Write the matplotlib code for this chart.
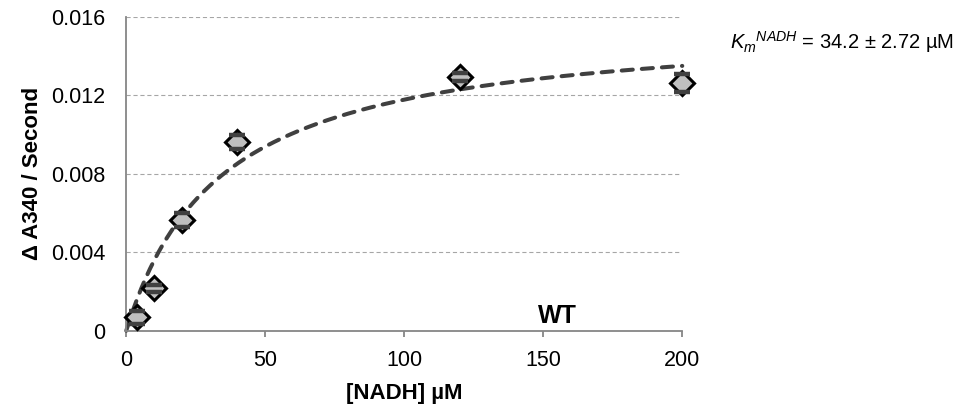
import numpy as np
import matplotlib
matplotlib.use("Agg")
import matplotlib.pyplot as plt

plt.rcParams['font.family'] = ['Liberation Sans', 'DejaVu Sans']
plt.rcParams['mathtext.fontset'] = 'custom'
plt.rcParams['mathtext.rm'] = 'Liberation Sans'
plt.rcParams['mathtext.it'] = 'Liberation Sans:italic'
plt.rcParams['lines.scale_dashes'] = False

# data
nadh = [4, 10, 20, 40, 120, 200]
rate = [0.00068, 0.00216, 0.00564, 0.00962, 0.01293, 0.01262]
rate_err = [0.00032, 0.00019, 0.00034, 0.00035, 0.00020, 0.00045]
km = 34.2
km_err = 2.72
vmax = 0.0158
xticks = [0, 50, 100, 150, 200]
yticks = [0, 0.004, 0.008, 0.012, 0.016]
ytick_labels = ['0', '0.004', '0.008', '0.012', '0.016']

fig = plt.figure(figsize=(9.58, 4.15), dpi=100)
ax = fig.add_axes([0.1318, 0.2031, 0.5804, 0.7567])

# fit curve (Michaelis-Menten)
xf = np.linspace(0, 200, 400)
yf = vmax * xf / (km + xf)
ax.plot(xf, yf, color='#404040', lw=2.9, dashes=(8, 6.5),
        dash_capstyle='round', zorder=2.5, clip_on=False)

# error bar stems (behind markers)
ax.errorbar(nadh, rate, yerr=rate_err, fmt='none', ecolor='#404040',
            elinewidth=3, capsize=0, zorder=2, clip_on=False)
# markers
ax.plot(nadh, rate, linestyle='none', marker='D', ms=12, mfc='#bfbfbf',
        mec='black', mew=2.2, zorder=3, clip_on=False)
# caps on top
eb = ax.errorbar(nadh, rate, yerr=rate_err, fmt='none', ecolor='#404040',
                 elinewidth=0, capsize=6, capthick=3.2, zorder=4)
for c in eb[1]:
    c.set_clip_on(False)

ax.set_xlim(0, 200)
ax.set_ylim(0, 0.016)
ax.set_xticks(xticks)
ax.set_yticks(yticks)
ax.set_yticklabels(ytick_labels)

ax.grid(axis='y', color='#a6a6a6', linestyle=(0, (3, 2)), linewidth=0.8)
ax.set_axisbelow(True)
for s in ['top', 'right']:
    ax.spines[s].set_visible(False)
for s in ['left', 'bottom']:
    ax.spines[s].set_color('#868686')
    ax.spines[s].set_linewidth(1.3)

ax.tick_params(axis='x', direction='out', length=4.2, width=1.3,
               color='#868686', pad=10, labelsize=15.5)
ax.tick_params(axis='y', length=0, pad=15, labelsize=15.5)

ax.set_xlabel('[NADH] µM', fontsize=16, fontweight='bold', labelpad=8)
ax.set_ylabel('Δ A340 / Second', fontsize=16, fontweight='bold', labelpad=6)

ax.text(155, 0.00076, 'WT', fontsize=18, fontweight='bold',
        ha='center', va='center')

fig.text(730 / 958, 1 - 48.3 / 415,
         r'$K_{m}{}^{NADH}$' + f' = {km} ± {km_err} µM',
         fontsize=14.5, ha='left', va='baseline')

fig.savefig('out.png', dpi=100)
